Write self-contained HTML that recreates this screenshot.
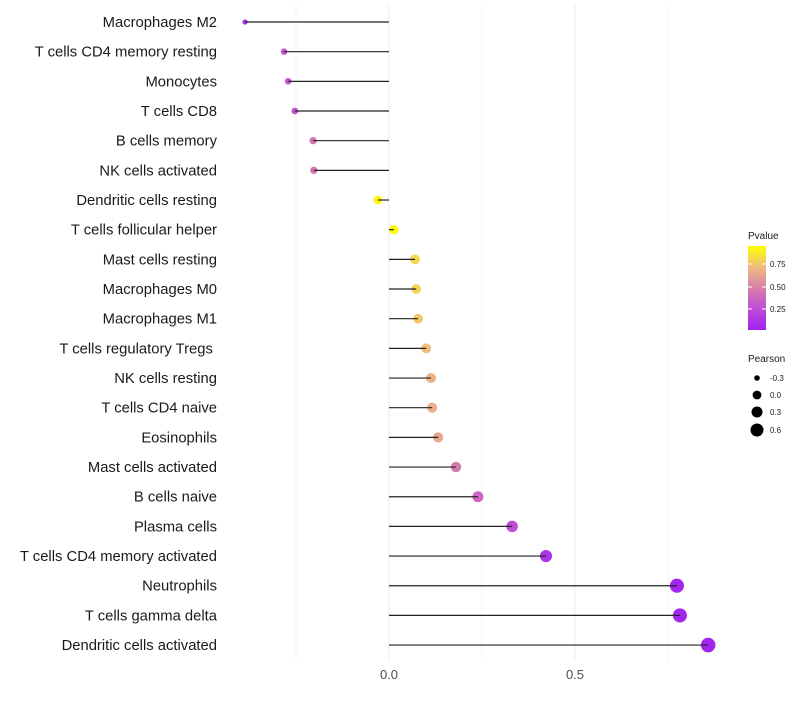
<!DOCTYPE html>
<html><head><meta charset="utf-8"><style>
body{margin:0;background:#fff;font-family:"Liberation Sans",sans-serif}
</style></head><body>
<svg id="c" width="800" height="700" xmlns="http://www.w3.org/2000/svg">
<defs><linearGradient id="g" x1="0" y1="1" x2="0" y2="0">
<stop offset="0" stop-color="#a020f0"/><stop offset="0.3" stop-color="#c455d0"/><stop offset="0.5" stop-color="#d880a8"/><stop offset="0.75" stop-color="#efbb80"/><stop offset="1" stop-color="#ffff00"/></linearGradient></defs>
</svg>
<script>
const categories=["Macrophages M2","T cells CD4 memory resting","Monocytes","T cells CD8","B cells memory","NK cells activated","Dendritic cells resting","T cells follicular helper","Mast cells resting","Macrophages M0","Macrophages M1","T cells regulatory  Tregs\u00a0","NK cells resting","T cells CD4 naive","Eosinophils","Mast cells activated","B cells naive","Plasma cells","T cells CD4 memory activated","Neutrophils","T cells gamma delta","Dendritic cells activated"];
const pearson=[-0.387,-0.282,-0.271,-0.253,-0.204,-0.202,-0.03,0.013,0.07,0.073,0.078,0.1,0.113,0.116,0.132,0.18,0.239,0.331,0.422,0.774,0.782,0.858];
const pvalue=[0.1,0.3,0.3,0.3,0.45,0.45,0.97,0.98,0.85,0.83,0.8,0.76,0.72,0.7,0.66,0.48,0.38,0.25,0.1,0.03,0.03,0.02];
const xTicks=[0,0.5];
const NS="http://www.w3.org/2000/svg",svg=document.getElementById('c');
const X=v=>389+v*372, Y=i=>22+i*29.67, R=v=>Math.sqrt(Math.max(4,21+37*v));
function col(p){const s=[[0,[160,32,240]],[0.3,[196,85,208]],[0.5,[216,128,168]],[0.75,[239,187,128]],[1,[255,255,0]]];
for(let i=1;i<s.length;i++)if(p<=s[i][0]){const t=(p-s[i-1][0])/(s[i][0]-s[i-1][0]);const c=s[i-1][1].map((a,k)=>Math.round(a+(s[i][1][k]-a)*t));return`rgb(${c})`;}return'rgb(255,255,0)';}
function el(t,a,txt){const e=document.createElementNS(NS,t);for(const k in a)e.setAttribute(k,a[k]);if(txt!=null)e.textContent=txt;svg.appendChild(e);return e;}
[-0.25,0.25,0.75].forEach(v=>{const e=el('line',{x1:X(v),x2:X(v),y1:5,y2:660,stroke:'#f5f5f5','stroke-width':1});

});
xTicks.forEach(v=>{const e=el('line',{x1:X(v),x2:X(v),y1:5,y2:660,stroke:'#ebebeb','stroke-width':1});


const t=el('text',{x:X(v),y:679,'text-anchor':'middle','font-size':13,fill:'#4d4d4d'},v.toFixed(1));

});
categories.forEach((c,i)=>{const y=Y(i);
const t=el('text',{x:217,y:y+5,'text-anchor':'end','font-size':14.8,fill:'#1a1a1a','xml:space':'preserve'},c);


const d=el('circle',{cx:X(pearson[i]),cy:y,r:R(pearson[i]),fill:col(pvalue[i])});


const l=el('line',{x1:X(0),x2:X(pearson[i]),y1:y,y2:y,stroke:'#222','stroke-width':1.2});

});
</script>
<svg style="position:absolute;left:0;top:0" width="800" height="700">
<text x="748" y="239" font-size="10" fill="#1a1a1a">Pvalue</text>
<rect x="748" y="246" width="18" height="84" fill="url(#g)"/>
<g stroke="#fff" stroke-width="1"><line x1="748" x2="752" y1="264" y2="264"/><line x1="762" x2="766" y1="264" y2="264"/><line x1="748" x2="752" y1="287" y2="287"/><line x1="762" x2="766" y1="287" y2="287"/><line x1="748" x2="752" y1="309" y2="309"/><line x1="762" x2="766" y1="309" y2="309"/></g>
<g font-size="8" fill="#1a1a1a"><text x="770" y="267">0.75</text><text x="770" y="290">0.50</text><text x="770" y="312">0.25</text></g>
<text x="748" y="362" font-size="10" fill="#1a1a1a">Pearson</text>
<g fill="#000"><circle cx="757" cy="378" r="2.8"/><circle cx="757" cy="395" r="4.4"/><circle cx="757" cy="412" r="5.5"/><circle cx="757" cy="430" r="6.5"/></g>
<g font-size="8" fill="#1a1a1a"><text x="770" y="381">-0.3</text><text x="770" y="398">0.0</text><text x="770" y="415">0.3</text><text x="770" y="433">0.6</text></g>
</svg>
</body></html>
